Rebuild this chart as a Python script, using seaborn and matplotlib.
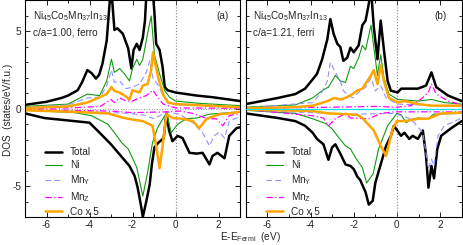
import pandas as pd
import matplotlib
matplotlib.use("Agg")
import matplotlib.pyplot as plt
from matplotlib.ticker import MultipleLocator
import seaborn as sns

# panel (a): c/a=1.00, ferro  -- (energy eV, DOS states/eV/f.u.)
a_tot_up = [(-7, 0.25), (-6, 0.45), (-5.3, 0.7), (-5, 0.85), (-4.55, 1.2), (-4.35, 1.7), (-4.1, 2.5),
            (-3.9, 2.3), (-3.7, 1.95), (-3.55, 2.2), (-3.4, 2.9), (-3.2, 4.4), (-3.0, 8.0), (-2.84, 5.1),
            (-2.7, 5.2), (-2.45, 4.85), (-2.2, 3.9), (-2.05, 2.6), (-1.95, 3.8), (-1.8, 4.2), (-1.67, 3.8),
            (-1.52, 4.6), (-1.42, 5.7), (-1.35, 7.5), (-1.2, 10.0), (-1.05, 7.5), (-0.98, 6.2), (-0.9, 4.2),
            (-0.74, 3.8), (-0.6, 2.7), (-0.5, 1.4), (-0.37, 1.2), (0, 1.05), (1, 0.85), (1.7, 0.75), (3, 0.5)]
a_tot_dn = [(-7, -0.3), (-6.1, -0.6), (-4.7, -0.8), (-4.0, -0.9), (-3.53, -1.55), (-3.0, -2.3), (-2.45, -3.2),
            (-2.14, -3.7), (-1.9, -4.35), (-1.76, -5.1), (-1.6, -6.3), (-1.52, -7.0), (-1.36, -6.0),
            (-1.2, -4.9), (-1.1, -3.6), (-0.98, -2.5), (-0.8, -2.2), (-0.55, -1.9), (-0.42, -0.3),
            (-0.3, -1.4), (-0.14, -2.1), (0.1, -1.75), (0.33, -1.9), (0.65, -2.85), (0.98, -2.9),
            (1.26, -2.85), (1.58, -3.6), (1.72, -3.05), (1.95, -2.85), (2.28, -3.2), (2.5, -1.75),
            (2.84, -1.25), (3, -1.2)]
a_ni_up = [(-7, 0.15), (-5, 0.3), (-4.1, 0.95), (-3.53, 0.85), (-3.2, 1.8), (-2.98, 3.2), (-2.84, 2.35),
           (-2.6, 2.6), (-2.37, 2.25), (-2.14, 1.8), (-2.0, 2.6), (-1.8, 3.2), (-1.67, 2.8), (-1.52, 3.2),
           (-1.3, 4.85), (-1.13, 6.0), (-0.98, 3.5), (-0.74, 2.25), (-0.5, 1.17), (-0.28, 0.75), (0, 0.5),
           (1.1, 0.35), (3, 0.2)]
a_ni_dn = [(-7, -0.1), (-4.7, -0.25), (-3.9, -0.45), (-3.15, -1.0), (-2.84, -1.55), (-2.5, -2.2),
           (-2.2, -2.6), (-2.0, -3.2), (-1.8, -3.8), (-1.52, -5.65), (-1.3, -4.15), (-1.07, -2.2),
           (-0.84, -1.25), (-0.42, -0.25), (-0.2, -1.55), (0.1, -1.0), (0.5, -0.65), (0.98, -0.6),
           (1.58, -0.35), (3, -0.2)]
a_mny_up = [(-7, 0.1), (-5, 0.25), (-4.1, 0.7), (-3.5, 0.75), (-3.2, 1.5), (-2.98, 2.5), (-2.84, 1.7),
            (-2.6, 1.8), (-2.3, 1.3), (-2.0, 1.4), (-1.67, 1.6), (-1.36, 2.35), (-1.2, 3.1), (-1.05, 2.0),
            (-0.8, 1.5), (-0.57, 0.85), (-0.28, 0.4), (0, 0.25), (3, 0.1)]
a_mny_dn = [(-7, -0.1), (-4, -0.2), (-2.14, -0.3), (-1.52, -0.4), (-0.98, -0.65), (-0.42, -0.2),
            (0.2, -0.35), (0.8, -0.9), (1.26, -1.55), (1.58, -2.4), (1.8, -1.75), (2.05, -1.5),
            (2.28, -1.9), (2.5, -0.8), (3, -0.5)]
a_mnz_up = [(-7, 0.02), (-5, 0.05), (-3.5, 0.15), (-3.0, 0.6), (-2.84, 0.4), (-2.6, 0.7), (-2.3, 0.5),
            (-2.0, 0.5), (-1.67, 0.7), (-1.36, 0.85), (-1.05, 1.2), (-0.8, 0.7), (-0.57, 0.3), (0, 0.05),
            (3, 0.03)]
a_mnz_dn = [(-7, -0.05), (-3, -0.15), (-2, -0.25), (-0.42, -0.2), (0.2, -0.15), (0.8, -0.3), (1.5, -0.65),
            (1.9, -0.65), (2.2, -1.1), (2.5, -0.45), (3, -0.3)]
a_co_up = [(-7, 0.05), (-5, 0.15), (-4.1, 0.4), (-3.2, 0.95), (-2.98, 1.4), (-2.84, 1.15), (-2.6, 1.05),
           (-2.37, 0.85), (-2.14, 0.6), (-2.0, 1.2), (-1.67, 1.05), (-1.52, 1.5), (-1.3, 1.6), (-1.13, 2.5),
           (-1.05, 3.65), (-0.8, 2.0), (-0.57, 0.9), (-0.35, 0.4), (0, 0.3), (3, 0.1)]
a_co_dn = [(-7, -0.1), (-4.7, -0.2), (-3.15, -0.3), (-2.37, -0.6), (-2.0, -0.7), (-1.52, -0.8),
           (-1.07, -1.1), (-0.9, -2.4), (-0.74, -3.85), (-0.6, -2.4), (-0.42, -0.35), (-0.14, -0.6),
           (0.33, -0.65), (0.8, -0.8), (1.1, -1.25), (1.45, -0.65), (2.05, -0.35), (2.5, -0.3), (3, -0.2)]

# panel (b): c/a=1.21, ferri
b_tot_up = [(-7, 0.3), (-5.5, 0.7), (-4.7, 0.95), (-4.25, 1.3), (-3.9, 1.9), (-3.7, 2.25), (-3.46, 3.2),
            (-3.22, 4.5), (-3.08, 5.8), (-2.93, 4.85), (-2.76, 4.2), (-2.62, 4.0), (-2.48, 3.1), (-2.3, 3.3),
            (-2.15, 3.95), (-2.0, 3.65), (-1.77, 4.1), (-1.6, 5.4), (-1.45, 5.7), (-1.3, 6.8), (-1.2, 7.8),
            (-1.07, 5.3), (-0.9, 3.2), (-0.75, 5.7), (-0.6, 3.8), (-0.43, 1.8), (-0.28, 1.17), (0.03, 1.05),
            (0.2, 1.3), (0.97, 1.3), (1.35, 1.5), (1.6, 2.35), (1.82, 1.4), (2.37, 0.85), (3, 0.5)]
b_tot_dn = [(-7, -0.3), (-5.5, -0.6), (-4.7, -0.8), (-4.25, -1.1), (-3.9, -1.55), (-3.7, -1.95),
            (-3.4, -2.3), (-3.17, -3.3), (-3.0, -2.5), (-2.85, -2.3), (-2.62, -2.9), (-2.38, -3.6),
            (-2.15, -3.7), (-2.0, -3.9), (-1.83, -4.4), (-1.7, -4.6), (-1.45, -5.4), (-1.3, -6.2),
            (-1.12, -5.95), (-1.0, -4.8), (-0.75, -3.6), (-0.5, -2.4), (-0.28, -1.75), (-0.14, -1.1),
            (0.19, -1.75), (0.35, -1.55), (0.57, -1.95), (0.73, -1.75), (0.97, -1.95), (1.2, -1.4),
            (1.35, -3.05), (1.46, -5.1), (1.6, -3.7), (1.72, -4.5), (1.87, -2.6), (2.05, -1.75),
            (2.52, -1.25), (3, -0.8)]
b_ni_up = [(-7, 0.1), (-4.7, 0.25), (-3.9, 0.7), (-3.46, 1.17), (-3.17, 1.4), (-2.85, 2.15), (-2.62, 1.8),
           (-2.38, 1.7), (-2.15, 2.75), (-2.0, 2.6), (-1.77, 3.3), (-1.6, 4.1), (-1.45, 3.8), (-1.2, 5.4),
           (-1.07, 4.0), (-0.9, 2.15), (-0.75, 3.5), (-0.6, 2.0), (-0.37, 0.95), (0.03, 0.6), (1.0, 0.5),
           (1.6, 0.6), (2.2, 0.4), (3, 0.3)]
b_ni_dn = [(-7, -0.1), (-4.7, -0.3), (-3.9, -0.65), (-3.3, -0.95), (-3.0, -1.3), (-2.7, -1.85),
           (-2.38, -2.4), (-2.15, -2.6), (-1.9, -3.2), (-1.6, -3.8), (-1.4, -4.8), (-1.1, -4.2),
           (-0.85, -2.6), (-0.43, -1.1), (0.0, -0.3), (0.2, -0.4), (0.43, -0.9), (0.73, -0.65),
           (0.97, -0.6), (1.45, -0.65), (1.7, -0.35), (3, -0.3)]
b_mny_up = [(-7, 0.05), (-3.9, 0.4), (-3.46, 1.1), (-3.22, 1.8), (-3.08, 3.0), (-2.85, 2.35), (-2.62, 1.8),
            (-2.48, 1.17), (-2.3, 0.95), (-2.05, 0.7), (-1.77, 1.05), (-1.45, 1.4), (-1.2, 2.0), (-1.0, 1.15),
            (-0.75, 1.5), (-0.5, 0.7), (0.03, 0.3), (3, 0.15)]
b_mny_dn = [(-7, -0.1), (-4, -0.25), (-2, -0.35), (-0.14, -0.3), (0.65, -0.65), (1.2, -1.55), (1.46, -3.9),
            (1.6, -3.25), (1.72, -3.7), (1.9, -1.75), (2.2, -1.1), (3, -0.6)]
b_mnz_up = [(-7, 0.02), (-3, 0.1), (-1, 0.15), (0, 0.1), (0.65, 0.2), (1.1, 0.6), (1.45, 1.05), (1.6, 1.6),
            (1.82, 0.95), (2.37, 0.5), (3, 0.25)]
b_mnz_dn = [(-7, -0.05), (-3.9, -0.45), (-3.4, -0.6), (-3.17, -1.1), (-2.85, -0.65), (-2.38, -0.3),
            (-2.15, -0.6), (-1.3, -0.65), (-0.75, -0.3), (-0.14, -0.2), (1.5, -0.2), (3, -0.2)]
b_co_up = [(-7, 0.02), (-4.7, 0.1), (-3.9, 0.2), (-3.2, 0.5), (-2.9, 0.7), (-2.62, 0.6), (-2.38, 0.7),
           (-2.05, 0.95), (-1.85, 1.17), (-1.6, 1.3), (-1.37, 1.8), (-1.2, 2.15), (-1.07, 2.5), (-0.9, 1.6),
           (-0.75, 2.8), (-0.6, 1.8), (-0.37, 0.7), (0.03, 0.4), (0.35, 0.5), (1.0, 0.3), (1.6, 0.2), (3, 0.2)]
b_co_dn = [(-7, -0.05), (-3.9, -0.15), (-3.17, -0.3), (-2.38, -0.35), (-1.83, -0.4), (-1.6, -0.6),
           (-1.37, -0.95), (-1.07, -1.4), (-0.75, -2.4), (-0.5, -3.05), (-0.37, -2.3), (-0.2, -1.3),
           (0.0, -0.8), (0.35, -0.8), (0.97, -0.65), (1.45, -0.65), (1.78, -0.45), (2.05, -0.3), (3, -0.25)]

labels = ["Total", "Ni", r"Mn$_\mathrm{Y}$", r"Mn$_\mathrm{Z}$", "Co x 5"]
panel_titles = ["c/a=1.00, ferro", "c/a=1.21, ferri"]
panel_tags = ["(a)", "(b)"]

sns.set_style("ticks")
plt.rcParams['font.family'] = ['Liberation Sans', 'DejaVu Sans']
plt.rcParams['mathtext.fontset'] = 'custom'
plt.rcParams['mathtext.rm'] = 'Liberation Sans'
plt.rcParams['mathtext.it'] = 'Liberation Sans:italic'
plt.rcParams['axes.unicode_minus'] = False

FS = 7.2

styles = [dict(color='black', lw=1.8, linestyle='-'),
          dict(color='#119911', lw=0.8, linestyle='-'),
          dict(color='#9090ff', lw=0.8, linestyle=(0, (5, 3))),
          dict(color='#ff00ff', lw=0.9, linestyle=(0, (5, 2, 1, 2))),
          dict(color='#ffa500', lw=1.8, linestyle='-')]


def draw(ax, pts, style, label=None):
    df = pd.DataFrame(pts, columns=['E', 'DOS'])
    sns.lineplot(data=df, x='E', y='DOS', ax=ax, sort=False, estimator=None,
                 label=label, **style)


fig = plt.figure(figsize=(4.63, 2.45), dpi=100)
ax_a = fig.add_axes([25 / 463, 28 / 245, 215 / 463, 216.5 / 245])
ax_b = fig.add_axes([245.7 / 463, 28 / 245, 216 / 463, 216.5 / 245])

panels = [(ax_a, [a_tot_up, a_ni_up, a_mny_up, a_mnz_up, a_co_up],
           [a_tot_dn, a_ni_dn, a_mny_dn, a_mnz_dn, a_co_dn]),
          (ax_b, [b_tot_up, b_ni_up, b_mny_up, b_mnz_up, b_co_up],
           [b_tot_dn, b_ni_dn, b_mny_dn, b_mnz_dn, b_co_dn])]

for i, (ax, ups, dns) in enumerate(panels):
    ax.axhline(0, color='#999999', ls=':', lw=0.7, zorder=1)
    ax.axvline(0, color='#888888', ls=':', lw=0.8, zorder=1)
    for k in range(5):
        draw(ax, ups[k], styles[k], labels[k])
        draw(ax, dns[k], styles[k])
    if i == 1:
        ax.axhline(0, color='#00e5e5', lw=0.9, zorder=3)

    ax.set_xlim(-7, 3)
    ax.set_ylim(-7, 7)
    ax.set_xlabel('')
    ax.set_ylabel('')
    ax.xaxis.set_major_locator(MultipleLocator(2))
    ax.xaxis.set_minor_locator(MultipleLocator(1))
    ax.yaxis.set_major_locator(MultipleLocator(5))
    ax.yaxis.set_minor_locator(MultipleLocator(1))
    ax.tick_params(which='both', direction='in', top=True, right=True,
                   labelsize=FS, pad=2.5, width=0.6, color='black')
    ax.tick_params(which='major', length=3.5)
    ax.tick_params(which='minor', length=2.5)
    if i == 1:
        ax.set_yticklabels([])
    for sp in ax.spines.values():
        sp.set_linewidth(0.8)
        sp.set_color('black')

    ax.text(0.035, 0.93, r"Ni$_{45}$Co$_5$Mn$_{37}$In$_{13}$", transform=ax.transAxes,
            fontsize=FS, va='center', ha='left')
    ax.text(0.035, 0.85, panel_titles[i], transform=ax.transAxes,
            fontsize=FS, va='center', ha='left')
    ax.text(0.945 if i == 0 else 0.93, 0.93, panel_tags[i], transform=ax.transAxes,
            fontsize=FS, va='center', ha='right')

    h, l = ax.get_legend_handles_labels()
    ax.legend(h[:5], l[:5], loc='upper left', bbox_to_anchor=(0.07, 0.345), frameon=False,
              fontsize=FS, handlelength=1.7, handletextpad=0.8, labelspacing=0.3, borderpad=0)

fig.text(8 / 463, 0.55, "DOS  (states/eV/f.u.)", rotation=90, ha='center', va='center', fontsize=FS)
fig.text(250 / 463, 8 / 245, r"E-E$_\mathrm{Fermi}$  (eV)", ha='center', va='center', fontsize=FS)

fig.savefig('out.png', dpi=100)
